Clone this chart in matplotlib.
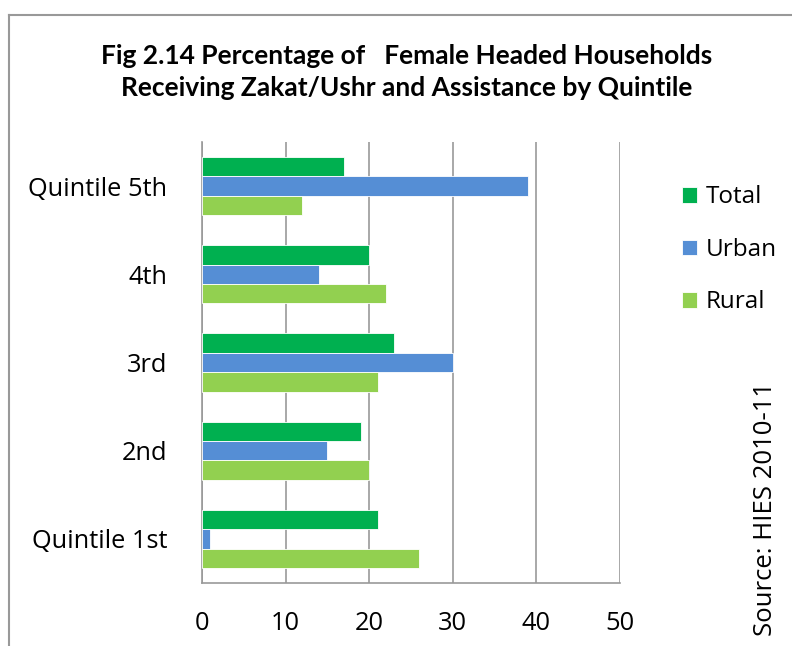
import numpy as np
import matplotlib.pyplot as plt
from matplotlib.lines import Line2D

quintiles = ['Quintile 1st', '2nd', '3rd', '4th', 'Quintile 5th']
total = [21, 19, 23, 20, 17]
urban = [1, 15, 30, 14, 39]
rural = [26, 20, 21, 22, 12]

series = ['Total', 'Urban', 'Rural']
colors = ['#00B050', '#558ED5', '#92D050']

plt.rcParams['font.family'] = ['Open Sans', 'DejaVu Sans']

fig = plt.figure(figsize=(7.92, 6.46), dpi=100)
ax = fig.add_axes([202 / 792, 1 - 583 / 646, 418 / 792, 441 / 646])

y = np.arange(len(quintiles))
h = 0.22
for vals, off, c, name in zip([total, urban, rural], [h, 0, -h], colors, series):
    ax.barh(y + off, vals, height=h, color=c, label=name, zorder=3,
            edgecolor='white', linewidth=0.6)

ax.set_xlim(0, 50)
ax.set_ylim(-0.5, 4.5)
ax.set_xticks(range(0, 51, 10))
ax.set_yticks(y)
ax.set_yticklabels(quintiles)
ax.tick_params(axis='both', length=0, labelsize=18.3)
ax.tick_params(axis='x', pad=20)
ax.tick_params(axis='y', pad=25)
ax.grid(axis='x', color='#999999', linewidth=1.2, zorder=0)
for s in ['top', 'right']:
    ax.spines[s].set_visible(False)
for s in ['left', 'bottom']:
    ax.spines[s].set_color('#999999')
    ax.spines[s].set_linewidth(1.2)

fig.text(0.513, 1 - 72 / 646, 'Fig 2.14 Percentage of   Female Headed Households\n'
         'Receiving Zakat/Ushr and Assistance by Quintile',
         ha='center', va='center', fontsize=19, fontweight='bold',
         family=['Lato', 'DejaVu Sans'], linespacing=1.38)

ax.legend(loc='upper left', bbox_to_anchor=(1.097, 0.951), frameon=False,
          fontsize=17.5, handlelength=0.6, handleheight=0.6,
          handletextpad=0.35, labelspacing=1.17)

fig.text(766 / 792, 1 - 509 / 646, 'Source: HIES 2010-11', rotation=90,
         ha='center', va='center', fontsize=18.5)

# outer frame (left and top edges)
fig.add_artist(Line2D([9 / 792, 9 / 792], [0, 1 - 15 / 646],
                      color='#999999', linewidth=1.5))
fig.add_artist(Line2D([9 / 792, 1], [1 - 15 / 646, 1 - 15 / 646],
                      color='#999999', linewidth=1.5))

fig.savefig('out.png', dpi=100)
